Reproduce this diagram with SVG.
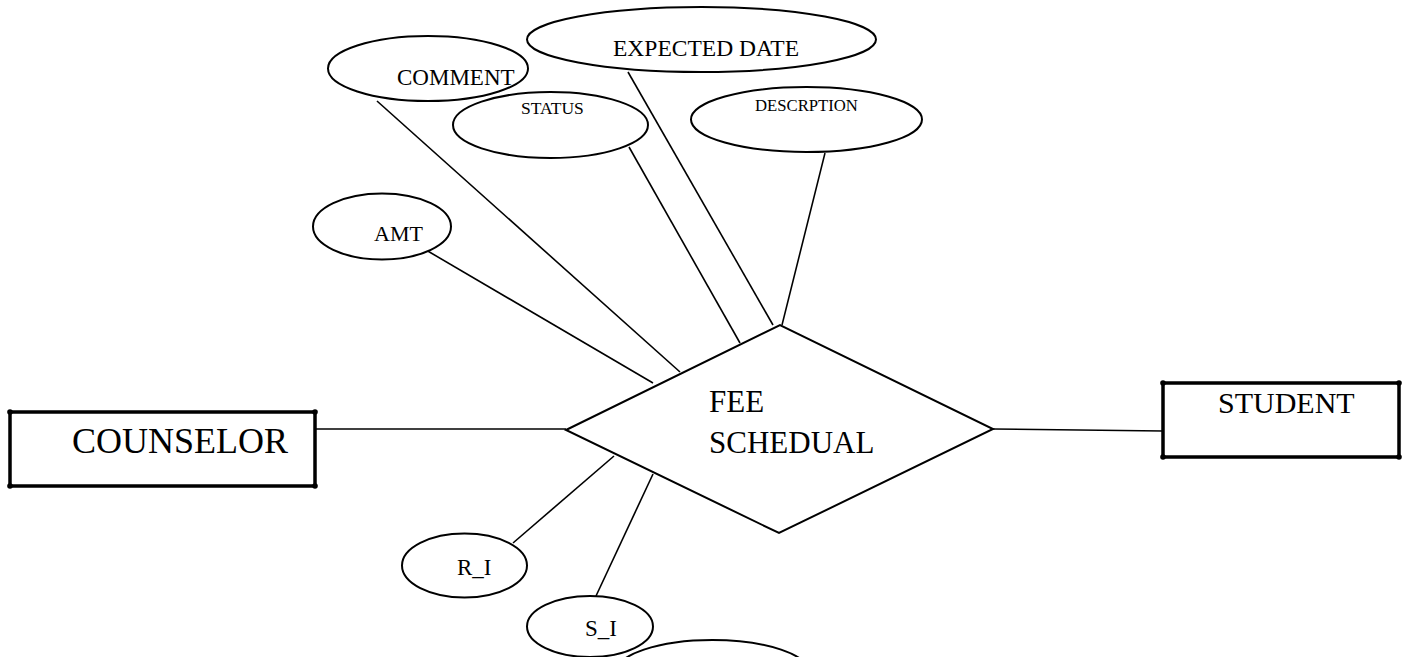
<svg xmlns="http://www.w3.org/2000/svg" width="1414" height="657" viewBox="0 0 1414 657">
  <style>
    text { font-family: "Liberation Serif", "Times New Roman", serif; fill: #000; }
    .entity { fill: #fff; stroke: #000; stroke-width: 3.5; }
    .corner { fill: #000; }
    .attr { fill: #fff; stroke: #000; stroke-width: 2; }
    .rel { fill: #fff; stroke: #000; stroke-width: 2; }
    .link { stroke: #000; stroke-width: 1.6; fill: none; }
  </style>
  <rect width="1414" height="657" fill="#fff"/>

  <!-- connectors -->
  <g id="connectors">
    <line class="link" x1="315" y1="429" x2="566" y2="429"/>
    <line class="link" x1="993" y1="429" x2="1163" y2="431"/>
    <line class="link" x1="426" y1="250" x2="653" y2="383"/>
    <line class="link" x1="377" y1="101" x2="680" y2="372"/>
    <line class="link" x1="629" y1="147" x2="740" y2="343"/>
    <line class="link" x1="628" y1="72" x2="773" y2="325"/>
    <line class="link" x1="825" y1="153" x2="782" y2="325"/>
    <line class="link" x1="513" y1="543" x2="614" y2="456"/>
    <line class="link" x1="596" y1="596" x2="653" y2="474"/>
  </g>

  <!-- relationship -->
  <g id="fee-schedual">
    <polygon class="rel" points="566,430 780,325 993,429 779,533"/>
    <text x="709" y="412" font-size="31">FEE</text>
    <text x="709" y="453" font-size="31">SCHEDUAL</text>
  </g>

  <!-- entities -->
  <g id="counselor">
    <rect class="entity" x="10" y="412" width="305" height="74"/>
    <circle class="corner" cx="10" cy="412" r="2.8"/>
    <circle class="corner" cx="315" cy="412" r="2.8"/>
    <circle class="corner" cx="10" cy="486" r="2.8"/>
    <circle class="corner" cx="315" cy="486" r="2.8"/>
    <text x="72" y="453" font-size="36">COUNSELOR</text>
  </g>
  <g id="student">
    <rect class="entity" x="1163" y="383" width="236" height="74"/>
    <circle class="corner" cx="1163" cy="383" r="2.8"/>
    <circle class="corner" cx="1399" cy="383" r="2.8"/>
    <circle class="corner" cx="1163" cy="457" r="2.8"/>
    <circle class="corner" cx="1399" cy="457" r="2.8"/>
    <text x="1218" y="413" font-size="30">STUDENT</text>
  </g>

  <!-- attributes -->
  <g id="attr-expected-date">
    <ellipse class="attr" cx="701.5" cy="39.5" rx="174.5" ry="32.5"/>
    <text x="613" y="56" font-size="23.5">EXPECTED DATE</text>
  </g>
  <g id="attr-comment">
    <ellipse class="attr" cx="428" cy="68.5" rx="100" ry="32.5"/>
    <text x="397" y="85" font-size="23">COMMENT</text>
  </g>
  <g id="attr-status">
    <ellipse class="attr" cx="550.5" cy="125" rx="97.5" ry="33"/>
    <text x="521" y="114" font-size="17.5">STATUS</text>
  </g>
  <g id="attr-descrption">
    <ellipse class="attr" cx="806.5" cy="119.5" rx="115.5" ry="32.5"/>
    <text x="755" y="111" font-size="16.7">DESCRPTION</text>
  </g>
  <g id="attr-amt">
    <ellipse class="attr" cx="382" cy="226.5" rx="69" ry="33"/>
    <text x="374" y="241" font-size="22">AMT</text>
  </g>
  <g id="attr-r-i">
    <ellipse class="attr" cx="464.5" cy="565.5" rx="62.5" ry="32"/>
    <text x="457" y="575" font-size="23">R_I</text>
  </g>
  <g id="attr-s-i">
    <ellipse class="attr" cx="590" cy="626.5" rx="63" ry="30.5"/>
    <text x="585" y="636" font-size="23">S_I</text>
  </g>
  <g id="attr-lower">
    <ellipse class="attr" cx="712.5" cy="673" rx="97" ry="33"/>
  </g>
</svg>
